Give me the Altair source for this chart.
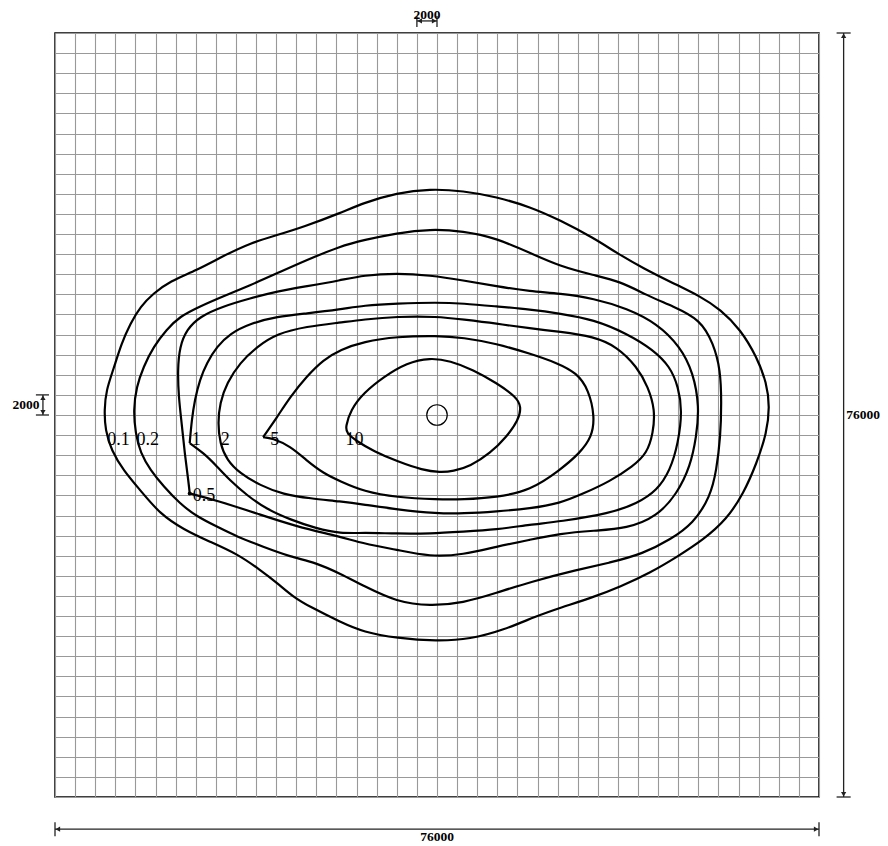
import altair as alt
import pandas as pd

# ---------------- contour vertices (km, measured from the lower-left corner) ----------------
c01_x = [4.9, 5.1, 5.8, 6.6, 7.5, 8.5, 9.8, 11.4, 14.1, 16.7, 19.4, 22.1, 24.7, 28.4, 30.7, 34.0, 37.3, 40.6, 43.9, 47.3,
         50.2, 53.6, 55.9, 58.5, 61.5, 64.2, 66.2, 68.2, 69.8, 70.8, 71.1, 70.8, 69.8, 68.5, 66.8, 64.5, 61.9, 59.2, 56.2, 53.6,
         50.2, 47.9, 44.6, 41.3, 38.0, 34.0, 30.7, 28.4, 25.4, 23.7, 22.1, 20.4, 18.1, 15.4, 12.8, 10.4, 8.5, 6.8, 5.6, 5.0]
c01_y = [38.5, 40.5, 42.5, 45.1, 47.1, 48.8, 50.1, 51.3, 52.4, 53.8, 55.1, 55.9, 56.7, 58.1, 59.1, 60.1, 60.5, 60.3, 59.7, 58.7,
         57.4, 55.6, 54.1, 52.6, 51.1, 49.8, 48.5, 46.5, 43.8, 41.2, 38.8, 36.2, 33.2, 30.2, 27.6, 25.6, 23.9, 22.3, 20.9, 19.9,
         18.8, 18.0, 16.6, 15.7, 15.5, 15.8, 16.4, 17.4, 18.9, 19.9, 21.3, 22.6, 24.2, 25.4, 26.6, 28.2, 30.5, 32.5, 34.5, 36.5]

c02_x = [7.8, 8.1, 8.8, 9.8, 11.1, 12.4, 14.4, 16.7, 19.4, 22.1, 25.0, 28.4, 30.7, 34.0, 37.3, 40.6, 43.9, 47.3, 50.2, 53.6,
         56.2, 58.9, 61.5, 64.2, 65.5, 66.2, 66.3, 66.2, 65.8, 65.2, 63.5, 61.2, 58.5, 55.2, 51.9, 47.3, 43.9, 40.6, 37.3, 34.0,
         30.7, 28.4, 26.0, 23.4, 20.7, 18.1, 16.1, 14.1, 12.4, 10.8, 9.5, 8.5, 8.0]
c02_y = [38.5, 40.8, 42.8, 44.8, 46.5, 47.8, 48.8, 49.8, 50.9, 52.1, 53.4, 54.8, 55.4, 56.1, 56.5, 56.3, 55.6, 54.1, 52.8, 51.9,
         51.3, 49.9, 48.8, 47.5, 45.1, 42.5, 39.2, 35.8, 32.5, 29.9, 27.2, 25.6, 24.2, 23.3, 22.6, 21.4, 20.3, 19.3, 19.0, 19.4,
         21.0, 22.2, 23.3, 23.9, 24.9, 25.9, 26.9, 27.9, 29.2, 30.9, 32.5, 34.2, 36.2]

c05_x = [13.4, 13.3, 12.9, 12.6, 12.3, 12.2, 12.4, 13.1, 14.4, 16.7, 19.4, 22.1, 25.0, 28.4, 30.7, 34.0, 37.3, 40.6, 43.9, 47.3,
         50.2, 53.6, 56.9, 59.9, 62.2, 63.5, 64.1, 63.8, 63.2, 61.9, 59.9, 56.9, 53.6, 50.2, 47.3, 43.9, 40.6, 37.3, 34.0, 30.7,
         28.4, 24.0, 20.1, 16.1, 13.4]
c05_y = [30.2, 31.2, 34.2, 37.2, 39.8, 42.5, 44.8, 46.5, 47.8, 48.8, 49.6, 50.3, 50.8, 51.4, 51.9, 52.1, 51.9, 51.4, 50.8, 50.3,
         50.1, 49.6, 48.6, 47.1, 44.8, 42.2, 38.8, 35.8, 32.9, 30.2, 27.9, 26.7, 26.5, 26.2, 25.6, 24.9, 24.1, 23.9, 24.6, 25.2,
         25.9, 26.9, 28.2, 29.5, 30.2]

c1_x = [13.4, 13.6, 13.9, 14.4, 15.1, 16.1, 17.4, 19.4, 22.1, 25.0, 28.4, 30.7, 34.0, 38.0, 40.6, 43.9, 47.3, 50.2, 53.6, 56.9,
        59.5, 61.2, 62.0, 62.4, 62.0, 61.2, 59.9, 57.9, 55.2, 50.2, 47.3, 43.9, 40.6, 37.3, 34.0, 30.7, 28.4, 26.0, 23.4, 21.1,
        19.1, 17.4, 16.1, 14.8, 13.4]
c1_y = [35.2, 37.5, 39.5, 41.5, 43.2, 44.8, 46.1, 47.1, 47.8, 48.1, 48.5, 48.9, 49.1, 49.2, 49.1, 48.8, 48.5, 48.1, 47.5, 46.1,
        44.5, 42.8, 40.8, 38.5, 35.2, 32.5, 30.5, 29.2, 28.2, 27.4, 27.1, 26.6, 26.4, 26.2, 26.2, 26.3, 26.2, 26.7, 27.6, 28.6,
        30.0, 31.5, 32.9, 34.2, 35.2]

c2_x = [16.2, 16.4, 17.1, 18.4, 20.1, 22.1, 25.0, 28.4, 30.7, 34.0, 38.0, 40.6, 43.9, 47.3, 50.2, 53.6, 55.9, 57.9, 59.0, 59.7,
        59.5, 58.9, 57.5, 55.2, 52.6, 50.2, 47.3, 43.9, 40.6, 38.0, 34.0, 30.7, 28.4, 25.4, 22.7, 20.4, 18.4, 17.1, 16.4]
c2_y = [37.2, 39.2, 41.2, 43.2, 44.8, 46.1, 46.8, 47.2, 47.5, 47.8, 47.8, 47.5, 47.1, 46.6, 46.3, 45.8, 44.8, 42.8, 40.8, 38.5,
        36.2, 34.2, 32.9, 31.4, 30.2, 29.2, 28.7, 28.4, 28.2, 28.2, 28.6, 29.1, 29.4, 29.7, 30.1, 31.0, 32.2, 33.5, 35.2]

c5_x = [20.7, 22.1, 23.4, 25.0, 26.7, 28.4, 30.7, 34.0, 38.0, 40.6, 43.9, 47.3, 49.9, 51.9, 53.1, 53.7, 53.4, 52.2, 50.2, 47.3,
        43.9, 40.6, 38.0, 34.0, 30.7, 28.4, 26.7, 25.0, 23.4, 21.6, 20.7]
c5_y = [35.8, 37.8, 39.8, 41.8, 43.5, 44.5, 45.3, 45.8, 45.9, 45.7, 45.1, 44.1, 43.2, 42.2, 40.5, 37.8, 35.8, 34.2, 32.5, 30.5,
        29.8, 29.6, 29.6, 29.8, 30.4, 31.4, 32.2, 33.5, 34.9, 35.7, 35.8]

c10_x = [28.9, 29.4, 30.7, 32.7, 35.0, 37.3, 39.3, 41.6, 43.9, 45.9, 46.4, 46.1, 44.9, 43.3, 41.3, 39.6, 38.3, 36.6, 34.0, 31.7,
         30.0, 29.0]
c10_y = [36.8, 38.5, 40.2, 41.8, 43.2, 43.7, 43.4, 42.5, 41.2, 39.8, 38.8, 37.5, 35.8, 34.2, 32.9, 32.4, 32.3, 32.5, 33.4, 34.4,
         35.4, 36.2]

# contour labels
label_text = ["0.1", "0.2", "0.5", "1", "2", "5", "10"]
label_x = [5.2, 8.1, 13.7, 13.6, 16.5, 21.4, 28.9]
label_y = [35.5, 35.5, 29.9, 35.5, 35.5, 35.5, 35.5]

# source (centre marker), km
source_x = [38.0]
source_y = [38.0]

# grid / extent (m)
extent_m = 76000
cell_m = 2000

# ---------------- build tables ----------------
smooth = [("0.1", c01_x, c01_y), ("0.2", c02_x, c02_y), ("2", c2_x, c2_y), ("10", c10_x, c10_y)]
cornered = [("0.5", c05_x, c05_y), ("1", c1_x, c1_y), ("5", c5_x, c5_y)]


def table(groups):
    rows = []
    for name, xs, ys in groups:
        assert len(xs) == len(ys), name
        for i, (a, b) in enumerate(zip(xs, ys)):
            rows.append({"x": a * 1000, "y": b * 1000, "level": name, "i": i})
    return pd.DataFrame(rows)


smooth_df = table(smooth)
corner_df = table(cornered)
labels_df = pd.DataFrame({"x": [v * 1000 for v in label_x], "y": [v * 1000 for v in label_y], "t": label_text})
src_df = pd.DataFrame({"x": [v * 1000 for v in source_x], "y": [v * 1000 for v in source_y]})

# dimension annotations (m)
dim_lines = pd.DataFrame({
    "x": [36000, 36000, 38000, -1200, -1900, -1900, 78450, 77750, 77750, 0, 0, 76000],
    "x2": [38000, 36000, 38000, -1200, -600, -600, 78450, 79150, 79150, 76000, 0, 76000],
    "y": [77200, 76600, 76600, 38000, 38000, 40000, 0, 0, 76000, -3200, -2500, -2500],
    "y2": [77200, 77700, 77700, 40000, 38000, 40000, 76000, 0, 76000, -3200, -3900, -3900],
})
dim_heads = pd.DataFrame({
    "x": [36280, 37720, -1200, -1200, 78450, 78450, 280, 75720],
    "y": [77200, 77200, 39720, 38280, 75720, 280, -3200, -3200],
    "shape": ["triangle-left", "triangle-right", "triangle-up", "triangle-down",
              "triangle-up", "triangle-down", "triangle-left", "triangle-right"],
})
dim_text = pd.DataFrame({
    "x": [37000, -1550, 78700, 38000],
    "y": [77780, 39000, 38000, -3950],
    "t": ["2000", "2000", "76000", "76000"],
    "align": ["center", "right", "left", "center"],
})

grid_vals = list(range(0, extent_m + 1, cell_m))
grid_axis = alt.Axis(values=grid_vals, grid=True, gridColor="#999999", gridWidth=1.1, gridOpacity=1,
                     labels=False, ticks=False, domain=False, title=None)
xs = alt.Scale(domain=[0, extent_m], nice=False, zero=False)
ys = alt.Scale(domain=[0, extent_m], nice=False, zero=False)


def X(f="x"):
    return alt.X(f"{f}:Q", scale=xs, axis=grid_axis)


def Y(f="y"):
    return alt.Y(f"{f}:Q", scale=ys, axis=grid_axis)


smooth_layer = alt.Chart(smooth_df).mark_line(
    interpolate="basis-closed", color="black", strokeWidth=2.2
).encode(x=X(), y=Y(), detail="level:N", order="i:Q")

corner_layer = alt.Chart(corner_df).mark_line(
    interpolate="basis", color="black", strokeWidth=2.2
).encode(x=X(), y=Y(), detail="level:N", order="i:Q")

label_layer = alt.Chart(labels_df).mark_text(
    align="left", baseline="middle", font="Liberation Serif", fontSize=18, color="black"
).encode(x=X(), y=Y(), text="t:N")

dot_layer = alt.Chart(pd.DataFrame({"x": [c05_x[0] * 1000], "y": [c05_y[0] * 1000]})).mark_point(
    shape="circle", size=16, filled=True, color="black", opacity=1
).encode(x=X(), y=Y())

src_layer = alt.Chart(src_df).mark_point(
    shape="circle", size=420, filled=False, stroke="black", strokeWidth=1.2, opacity=1
).encode(x=X(), y=Y())

dim_line_layer = alt.Chart(dim_lines).mark_rule(color="#222222", strokeWidth=1.3).encode(
    x=X(), x2="x2:Q", y=Y(), y2="y2:Q")

dim_head_layer = alt.Chart(dim_heads).mark_point(filled=True, color="#222222", size=28, opacity=1).encode(
    x=X(), y=Y(), shape=alt.Shape("shape:N", scale=None))

dim_text_layers = []
for al in ["center", "right", "left"]:
    sub = dim_text[dim_text["align"] == al]
    dim_text_layers.append(
        alt.Chart(sub).mark_text(align=al, baseline="middle", font="Liberation Serif", fontWeight="bold",
                                 fontSize=13.5, color="black").encode(x=X(), y=Y(), text="t:N"))

chart = alt.layer(
    smooth_layer, corner_layer, dot_layer, src_layer, label_layer,
    dim_line_layer, dim_head_layer, *dim_text_layers
).properties(
    width=764, height=764,
    autosize=alt.AutoSizeParams(type="none"),
    padding={"left": 47, "top": 25, "right": 61, "bottom": 52},
).configure_view(stroke="black", strokeWidth=1.5)

chart.save("out.html", embed_options={"renderer": "svg", "actions": False})
